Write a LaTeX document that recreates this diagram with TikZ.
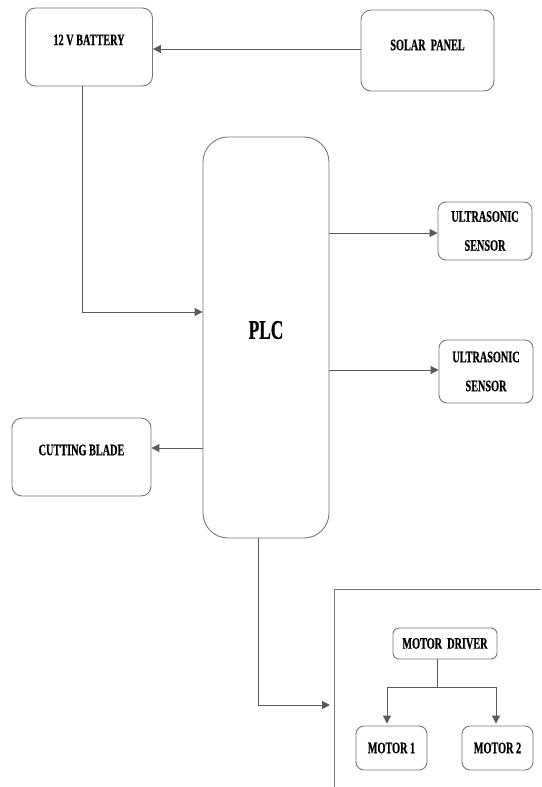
\documentclass[tikz,border=0pt]{standalone}
\usepackage{fontspec}
\usetikzlibrary{arrows.meta}
\newfontfamily\lblfont[FakeStretch=0.64, UprightFont={* Bold}, BoldFont={* Bold}, FakeBold=0.6]{Liberation Serif}
\definecolor{boxgray}{HTML}{777777}
\definecolor{linegray}{HTML}{5A5A5A}
\tikzset{
  blk/.style={draw=boxgray, line width=0.9pt, rounded corners=#1, inner sep=0pt},
  blk/.default=10pt,
  lbl/.style={font=\lblfont\fontsize{16}{29}\selectfont, text=black, align=center, inner sep=0pt},
  ln/.style={draw=linegray, line width=1pt},
  arr/.style={ln, -{Triangle[length=8pt,width=8pt]}},
}
\begin{document}
\begin{tikzpicture}[x=1pt,y=-1pt]
\useasboundingbox (0,0) rectangle (541,787);
% boxes
\node[blk, minimum width=127pt, minimum height=78pt] (bat) at (89,47) {};
\node[lbl] (batt) at (89,40) {12 V BATTERY};
\node[blk, minimum width=133pt, minimum height=81pt] (sol) at (427.5,50.5) {};
\node[lbl] (solt) at (427.5,45) {SOLAR\ \ PANEL};
\node[blk=25pt, minimum width=126pt, minimum height=401pt] (plc) at (266,337.5) {};
\node[lbl, font=\lblfont\fontsize{27}{30}\selectfont] (plct) at (266,330) {PLC};
\node[blk=8pt, minimum width=94pt, minimum height=58pt, lbl] (us1) at (485,231) {ULTRASONIC\\SENSOR};
\node[blk=8pt, minimum width=94pt, minimum height=63pt, lbl] (us2) at (486,371.5) {ULTRASONIC\\SENSOR};
\node[blk, minimum width=139pt, minimum height=78pt] (cut) at (81.5,457) {};
\node[lbl] (cutt) at (81.5,450) {CUTTING BLADE};
% motor subsystem
\coordinate (bigtl) at (334,589);
\draw[draw=boxgray, line width=1pt] (334,787) -- (bigtl) -- (541,589);
\coordinate (bigin) at (330,705);
\node[blk=6pt, minimum width=104pt, minimum height=31pt, lbl] (drv) at (445,643.5) {MOTOR\ \ DRIVER};
\node[blk=8pt, minimum width=71pt, minimum height=44pt, lbl] (m1) at (391.5,748) {MOTOR 1};
\node[blk=8pt, minimum width=71pt, minimum height=44pt, lbl] (m2) at (497.5,748) {MOTOR 2};
% connectors
\draw[arr] (sol.west |- 0,49) -- (bat.east |- 0,49);
\draw[arr] ([xshift=-7pt]bat.south) |- (plc.west |- 0,312);
\draw[arr] (plc.east |- 0,233) -- (us1.west |- 0,233);
\draw[arr] (plc.east |- 0,370) -- (us2.west |- 0,370);
\draw[arr] (plc.west |- 0,448) -- (cut.east |- 0,448);
\draw[arr] ([xshift=-8pt]plc.south) |- (bigin);
\coordinate (sp) at (437,687);
\draw[ln] (drv.south -| sp) -- (sp);
\draw[arr] (sp) -| ([xshift=-4.5pt,yshift=2pt]m1.north);
\draw[arr] (sp) -| ([xshift=-1.5pt,yshift=2pt]m2.north);
\end{tikzpicture}
\end{document}
